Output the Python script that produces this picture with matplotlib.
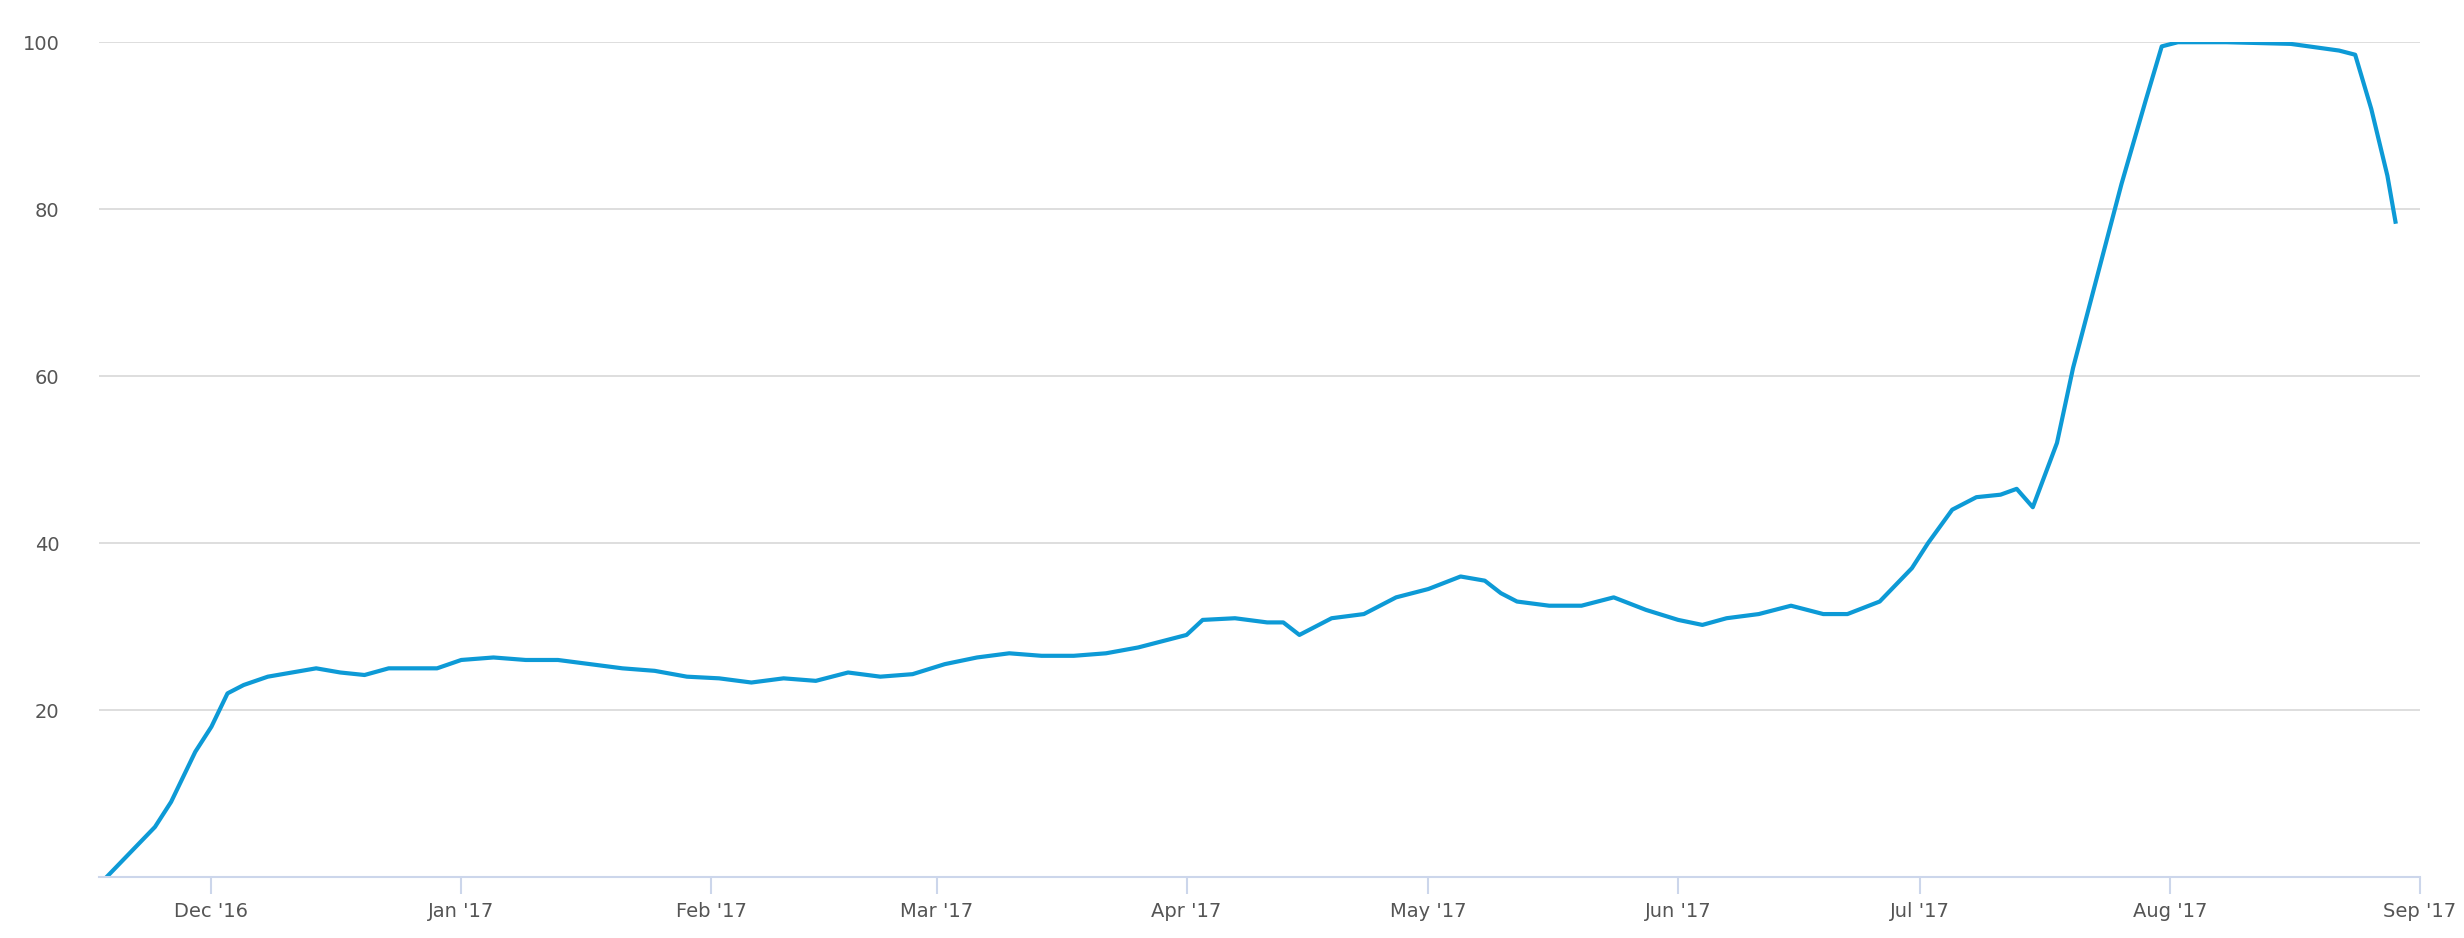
import matplotlib
matplotlib.use("Agg")
import matplotlib.pyplot as plt
import pandas as pd

dates = ["2016-11-18","2016-11-21","2016-11-24","2016-11-26","2016-11-29","2016-12-01","2016-12-03",
"2016-12-05","2016-12-08","2016-12-11","2016-12-14","2016-12-17","2016-12-20","2016-12-23","2016-12-26",
"2016-12-29","2017-01-01","2017-01-05","2017-01-09","2017-01-13","2017-01-17","2017-01-21","2017-01-25",
"2017-01-29","2017-02-02","2017-02-06","2017-02-10","2017-02-14","2017-02-18","2017-02-22","2017-02-26",
"2017-03-02","2017-03-06","2017-03-10","2017-03-14","2017-03-18","2017-03-22","2017-03-26","2017-03-30",
"2017-04-01","2017-04-03","2017-04-07","2017-04-11","2017-04-13","2017-04-15","2017-04-19","2017-04-23",
"2017-04-27","2017-05-01","2017-05-05","2017-05-08","2017-05-10","2017-05-12","2017-05-16","2017-05-20",
"2017-05-24","2017-05-28","2017-06-01","2017-06-04","2017-06-07","2017-06-11","2017-06-15","2017-06-19",
"2017-06-22","2017-06-26","2017-06-28","2017-06-30","2017-07-02","2017-07-05","2017-07-08","2017-07-11",
"2017-07-13","2017-07-15","2017-07-18","2017-07-20","2017-07-23","2017-07-26","2017-07-29","2017-07-31",
"2017-08-02","2017-08-08","2017-08-16","2017-08-22","2017-08-24","2017-08-26","2017-08-28","2017-08-29"]
values = [0,3,6,9,15,18,22,23,24,24.5,25,24.5,24.2,25,25,25,26,26.3,26,26,25.5,25,24.7,24,23.8,23.3,23.8,
23.5,24.5,24,24.3,25.5,26.3,26.8,26.5,26.5,26.8,27.5,28.5,29,30.8,31,30.5,30.5,29,31,31.5,33.5,34.5,36,
35.5,34,33,32.5,32.5,33.5,32,30.8,30.2,31,31.5,32.5,31.5,31.5,33,35,37,40,44,45.5,45.8,46.5,44.3,52,61,
72,83,93,99.5,100,100,99.8,99,98.5,92,84,78.5]
yticks = [20, 40, 60, 80, 100]
month_labels = ["Dec '16","Jan '17","Feb '17","Mar '17","Apr '17","May '17","Jun '17","Jul '17","Aug '17","Sep '17"]

x = pd.to_datetime(dates)
fig = plt.figure(figsize=(24.64, 9.38), dpi=100)
ax = fig.add_axes([0.04, 0.065, 0.942, 0.89])
ax.plot(x, values, color="#0d9ad6", lw=3)
ax.set_ylim(0, 100)
ax.set_xlim(pd.Timestamp("2016-11-17"), pd.Timestamp("2017-09-01"))
ax.set_yticks(yticks)
ax.grid(axis="y", color="#d8d8d8", lw=1.2)
ax.set_axisbelow(True)
for s in ["left", "right", "top"]:
    ax.spines[s].set_visible(False)
ax.spines["bottom"].set_color("#ccd6eb")
ax.spines["bottom"].set_linewidth(1.5)
mt = pd.date_range("2016-12-01", "2017-09-01", freq="MS")
ax.set_xticks(mt)
ax.set_xticklabels(month_labels)
ax.tick_params(axis="x", colors="#ccd6eb", length=12, width=1.5, labelcolor="#555555", labelsize=14, pad=6)
ax.tick_params(axis="y", length=0, labelcolor="#555555", labelsize=14, pad=28)
for l in ax.get_yticklabels():
    l.set_horizontalalignment("right")
fig.savefig("out.png")
